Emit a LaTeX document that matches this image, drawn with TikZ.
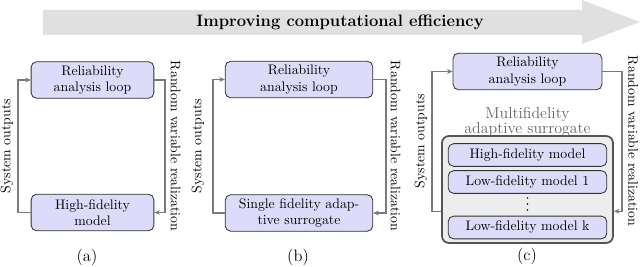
\documentclass[tikz,border=0pt]{standalone}
\usepackage{tikz}
\usetikzlibrary{arrows.meta,calc,positioning}
\definecolor{BoxFill}{HTML}{DCDCFA}
\definecolor{BoxLine}{HTML}{333333}
\definecolor{LoopGray}{HTML}{7A7A7A}
\definecolor{BannerGray}{HTML}{E0E0E0}
\definecolor{SurrFill}{HTML}{EDEDED}
\definecolor{SurrLine}{HTML}{555555}
\definecolor{SurrText}{HTML}{666666}
\tikzset{
  modelbox/.style={draw=BoxLine,fill=BoxFill,rounded corners=4pt,line width=0.6pt,align=center,minimum height=26.5pt,inner sep=1pt},
  fidbox/.style={draw=BoxLine,fill=BoxFill,rounded corners=4pt,line width=0.6pt,minimum width=115pt,minimum height=16.5pt,inner sep=1pt},
  loopline/.style={draw=LoopGray,line width=0.9pt,-{Stealth[length=4pt,width=3.5pt]}},
  caption/.style={font=\large},
}

\begin{document}
\begin{tikzpicture}[x=0.725pt,y=-0.725pt]
    \useasboundingbox (0,0) rectangle (640,267);
    % banner arrow
    \fill[BannerGray] (43,10) -- (582,10) -- (582,0) -- (640,22) -- (582,44) -- (582,35) -- (43,35) -- cycle;
    \node[font=\large\bfseries] (banner) at (340,22) {Improving computational efficiency};

    % (a)
    \node[modelbox,minimum width=89pt] (relA) at (92.5,80) {Reliability\\analysis loop};
    \node[modelbox,minimum width=89pt] (hfA) at (92.5,212.5) {High-fidelity\\model};
    \coordinate (leftA) at (18,0);
    \coordinate (rightA) at (165,0);
    \draw[loopline] (hfA.west) -- (hfA.west -| leftA) -- (relA.west -| leftA) -- (relA.west);
    \draw[loopline] (relA.east) -- (relA.east -| rightA) -- (hfA.east -| rightA) -- (hfA.east);
    \node[rotate=90] (outA) at (7,146) {System outputs};
    \node[rotate=-90] (rvA) at (175.5,146) {Random variable realization};
    \node[caption] (capA) at (87,257) {(a)};

    % (b)
    \node[modelbox,minimum width=107pt] (relB) at (299,79.5) {Reliability\\analysis loop};
    \node[modelbox,minimum width=107pt] (sfB) at (299,213) {Single fidelity adap-\\tive surrogate};
    \coordinate (leftB) at (213,0);
    \coordinate (rightB) at (386,0);
    \draw[loopline] (sfB.west) -- (sfB.west -| leftB) -- (relB.west -| leftB) -- (relB.west);
    \draw[loopline] (relB.east) -- (relB.east -| rightB) -- (sfB.east -| rightB) -- (sfB.east);
    \node[rotate=90] (outB) at (198,146) {System outputs};
    \node[rotate=-90] (rvB) at (395.5,146) {Random variable realization};
    \node[caption] (capB) at (298,257) {(b)};

    % (c)
    \node[modelbox,minimum width=108pt] (relC) at (527.5,71.5) {Reliability\\analysis loop};
    \node[draw=SurrLine,fill=SurrFill,rounded corners=5pt,line width=1.3pt,minimum width=124pt,minimum height=77.5pt] (surr) at (527.5,189.5) {};
    \node[text=SurrText,align=center,inner sep=0pt,font=\fontsize{11.5}{10}\selectfont] (surrtitle) at (527.5,122) {Multifidelity\\adaptive surrogate};
    \node[fidbox] (hfC) at (527.5,155) {High-fidelity model};
    \node[fidbox] (lf1) at (527.5,182) {Low-fidelity model 1};
    \foreach \y in {198,204,210}
      \fill[black] (527.5,\y) circle (0.55pt);
    \node[fidbox] (lfk) at (527.5,227.5) {Low-fidelity model k};
    \coordinate (surrL) at ($(surr.south west)!0.3!(surr.north west)$);
    \coordinate (surrR) at ($(surr.south east)!0.3!(surr.north east)$);
    \coordinate (leftC) at (432,0);
    \coordinate (rightC) at (622,0);
    \draw[loopline] (surrL) -- (surrL -| leftC) -- (relC.west -| leftC) -- (relC.west);
    \draw[loopline] (relC.east) -- (relC.east -| rightC) -- (surrR -| rightC) -- (surrR);
    \node[rotate=90] (outC) at (421,141) {System outputs};
    \node[rotate=-90] (rvC) at (633,141) {Random variable realization};
    \node[caption] (capC) at (527,256) {(c)};
\end{tikzpicture}
\end{document}
